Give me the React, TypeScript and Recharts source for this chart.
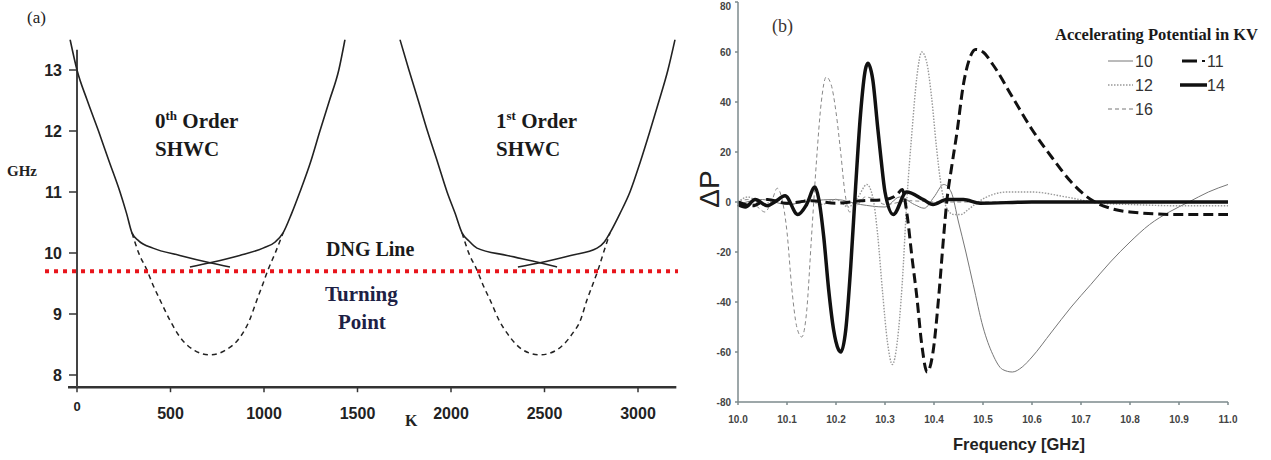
import React from 'react';
import { LineChart, Line, XAxis, YAxis, ReferenceLine } from 'recharts';

// ---------------- Panel (a): dispersion of SHWC ----------------
const kTicks = [0, 500, 1000, 1500, 2000, 2500, 3000];
const ghzTicks = [8, 9, 10, 11, 12, 13];
const dngLevel = 9.7;

const zerothSolidA = [
  { k: -37, f: 13.5 }, { k: 0, f: 13.0 }, { k: 55, f: 12.5 }, { k: 115, f: 12.0 },
  { k: 172, f: 11.5 }, { k: 230, f: 11.0 }, { k: 265, f: 10.65 }, { k: 294, f: 10.33 },
  { k: 330, f: 10.2 }, { k: 406, f: 10.08 }, { k: 550, f: 9.96 }, { k: 711, f: 9.84 }, { k: 818, f: 9.77 },
];
const zerothSolidB = [
  { k: 604, f: 9.77 }, { k: 711, f: 9.84 }, { k: 870, f: 9.96 }, { k: 995, f: 10.08 },
  { k: 1060, f: 10.18 }, { k: 1102, f: 10.33 }, { k: 1148, f: 10.65 }, { k: 1192, f: 11.0 },
  { k: 1250, f: 11.5 }, { k: 1299, f: 12.0 }, { k: 1350, f: 12.5 }, { k: 1400, f: 13.0 }, { k: 1433, f: 13.5 },
];
const zerothDashed = [
  { k: 294, f: 10.33 }, { k: 330, f: 10.0 }, { k: 374, f: 9.72 }, { k: 410, f: 9.45 },
  { k: 444, f: 9.23 }, { k: 500, f: 8.88 }, { k: 551, f: 8.62 }, { k: 630, f: 8.4 },
  { k: 711, f: 8.33 }, { k: 790, f: 8.4 }, { k: 872, f: 8.62 }, { k: 920, f: 8.88 },
  { k: 962, f: 9.23 }, { k: 995, f: 9.5 }, { k: 1021, f: 9.72 }, { k: 1060, f: 10.0 }, { k: 1102, f: 10.33 },
];
const firstSolidA = [
  { k: 1727, f: 13.5 }, { k: 1775, f: 13.0 }, { k: 1825, f: 12.5 }, { k: 1874, f: 12.0 },
  { k: 1927, f: 11.5 }, { k: 1979, f: 11.0 }, { k: 2022, f: 10.65 }, { k: 2059, f: 10.33 },
  { k: 2095, f: 10.2 }, { k: 2139, f: 10.08 }, { k: 2300, f: 9.96 }, { k: 2476, f: 9.84 }, { k: 2567, f: 9.77 },
];
const firstSolidB = [
  { k: 2358, f: 9.77 }, { k: 2476, f: 9.84 }, { k: 2640, f: 9.96 }, { k: 2781, f: 10.08 },
  { k: 2820, f: 10.18 }, { k: 2850, f: 10.33 }, { k: 2904, f: 10.65 }, { k: 2957, f: 11.0 },
  { k: 3013, f: 11.5 }, { k: 3064, f: 12.0 }, { k: 3113, f: 12.5 }, { k: 3160, f: 13.0 }, { k: 3198, f: 13.5 },
];
const firstDashed = [
  { k: 2059, f: 10.33 }, { k: 2095, f: 10.0 }, { k: 2139, f: 9.72 }, { k: 2175, f: 9.45 },
  { k: 2209, f: 9.23 }, { k: 2260, f: 8.88 }, { k: 2299, f: 8.69 }, { k: 2390, f: 8.4 },
  { k: 2476, f: 8.33 }, { k: 2560, f: 8.4 }, { k: 2652, f: 8.69 }, { k: 2690, f: 8.88 },
  { k: 2727, f: 9.23 }, { k: 2760, f: 9.5 }, { k: 2786, f: 9.72 }, { k: 2815, f: 10.0 }, { k: 2850, f: 10.33 },
];

// ---------------- Panel (b): ΔP vs frequency ----------------
const freqTicks = [10.0, 10.1, 10.2, 10.3, 10.4, 10.5, 10.6, 10.7, 10.8, 10.9, 11.0];
const dpTicks = [-80, -60, -40, -20, 0, 20, 40, 60, 80];

const kv10 = [
  [10.0, -1], [10.05, 1], [10.1, -1], [10.15, 0.5], [10.2, 1], [10.25, -1], [10.3, -2], [10.33, 2],
  [10.36, -1], [10.38, -2.5], [10.4, 2], [10.42, 7], [10.435, 4], [10.45, -8], [10.465, -20], [10.48, -33],
  [10.5, -50], [10.52, -61], [10.54, -67], [10.56, -68], [10.58, -66], [10.6, -62], [10.64, -52],
  [10.68, -42], [10.72, -33], [10.76, -24], [10.8, -16], [10.84, -9], [10.88, -4], [10.92, 0], [10.96, 4], [11.0, 7],
].map(([f, v]) => ({ f, v }));
const kv11 = [
  [10.0, 0], [10.03, -1.5], [10.06, 1], [10.1, -0.5], [10.15, 0.5], [10.2, -0.5], [10.25, 0.5], [10.3, 1],
  [10.325, 3], [10.335, 5], [10.345, -5], [10.355, -22], [10.365, -38], [10.375, -57], [10.386, -68],
  [10.398, -60], [10.41, -37], [10.42, -13], [10.426, 0], [10.436, 14], [10.447, 28], [10.46, 47],
  [10.472, 57], [10.485, 61], [10.5, 60], [10.52, 55], [10.56, 42], [10.6, 29], [10.64, 18], [10.68, 8],
  [10.72, 1], [10.76, -2.5], [10.8, -4], [10.9, -5], [11.0, -5],
].map(([f, v]) => ({ f, v }));
const kv12 = [
  [10.0, 0], [10.02, 2], [10.05, -1], [10.08, 1], [10.11, -1], [10.14, 1], [10.17, -1], [10.2, 1],
  [10.225, -2], [10.245, 2], [10.263, 7], [10.275, 2], [10.285, -13], [10.295, -36], [10.305, -56],
  [10.315, -65], [10.325, -56], [10.335, -33], [10.345, 2], [10.355, 28], [10.365, 50], [10.375, 60],
  [10.385, 56], [10.395, 42], [10.405, 22], [10.415, 6], [10.425, -2], [10.44, -5], [10.455, -5],
  [10.47, -3], [10.49, 0], [10.52, 3], [10.55, 4], [10.6, 4], [10.67, 2], [10.74, -0.5], [10.8, -1],
  [10.9, -1.5], [11.0, -1.5],
].map(([f, v]) => ({ f, v }));
const kv14 = [
  [10.0, -1], [10.015, -2], [10.035, 1], [10.06, -1.5], [10.075, 0], [10.096, 2.5], [10.122, -5],
  [10.14, -1], [10.157, 6], [10.165, 1], [10.175, -14], [10.185, -35], [10.195, -51], [10.205, -59],
  [10.21, -60], [10.22, -51], [10.23, -26], [10.24, 6], [10.25, 35], [10.26, 53], [10.265, 55.5],
  [10.275, 49], [10.285, 30], [10.292, 17], [10.3, 4], [10.317, -5], [10.344, 4], [10.378, 1],
  [10.398, -1], [10.426, 1], [10.46, 1], [10.494, -0.5], [10.6, 0], [10.8, 0], [11.0, 0],
].map(([f, v]) => ({ f, v }));
const kv16 = [
  [10.0, 0], [10.02, 1], [10.04, -2], [10.055, -4], [10.07, 1], [10.08, 5.5], [10.09, 1], [10.1, -12],
  [10.11, -35], [10.12, -50], [10.13, -54], [10.14, -44], [10.15, -14], [10.16, 16], [10.17, 40],
  [10.18, 50], [10.19, 47], [10.2, 36], [10.21, 19], [10.218, 4], [10.228, -4], [10.245, -1], [10.26, 2],
  [10.28, 1], [10.3, -1], [10.35, 0.5], [10.4, 0], [10.5, 0], [11.0, 0],
].map(([f, v]) => ({ f, v }));

// ---------------- layout constants ----------------
const K_MIN = -180;
const K_MAX = 3220;
const A_LEFT = 43.34;
const A_RIGHT = 679.14;
const A_TOP = 39.5;
const A_BOTTOM = 387.2;
const AXIS_A_X = A_LEFT + ((0 - K_MIN) * (A_RIGHT - A_LEFT)) / (K_MAX - K_MIN);

const sans = '"Liberation Sans", Arial, sans-serif';
const serif = '"Liberation Serif", "Times New Roman", serif';

const YTickA = (props: any) => {
  const { y, payload } = props;
  return (
    <g>
      <line x1={AXIS_A_X - 8} x2={AXIS_A_X} y1={y} y2={y} stroke="#333" strokeWidth={1.5} />
      <text x={AXIS_A_X - 15} y={y} dy="0.36em" textAnchor="end" fontFamily={sans} fontWeight="bold" fontSize={16} fill="#222">
        {payload.value}
      </text>
    </g>
  );
};

const XTickA = (props: any) => {
  const { x, payload } = props;
  const isZero = payload.value === 0;
  return (
    <g>
      <line x1={x} x2={x} y1={A_BOTTOM} y2={A_BOTTOM + 5} stroke="#333" strokeWidth={1.5} />
      <text x={x} y={isZero ? A_BOTTOM + 19 : A_BOTTOM + 26} dy="0.36em" textAnchor="middle" fontFamily={sans}
        fontWeight="bold" fontSize={isZero ? 13 : 16} fill="#222">
        {payload.value}
      </text>
    </g>
  );
};

const YTickB = (props: any) => {
  const { x, y, payload } = props;
  const ty = Math.max(y, 6);
  return (
    <text x={x} y={ty} dy="0.36em" textAnchor="end" fontFamily={sans} fontWeight="bold" fontSize={10} fill="#444">
      {payload.value}
    </text>
  );
};

const curveA = { stroke: '#222', strokeWidth: 1.6, dot: false, isAnimationActive: false, type: 'monotone' as const };
const dashA = { ...curveA, strokeWidth: 1.5, strokeDasharray: '5 4' };

export default function App() {
  return (
    <div style={{ position: 'absolute', left: 0, top: 0, width: 1271, height: 460, background: '#fff', overflow: 'hidden' }}>
      {/* Panel (a) */}
      <div style={{ position: 'absolute', left: 0, top: 0 }}>
        <LineChart width={700} height={460}
          margin={{ top: A_TOP, right: 700 - A_RIGHT, bottom: 460 - A_BOTTOM - 40, left: A_LEFT - 1 }}>
          <XAxis dataKey="k" type="number" domain={[K_MIN, K_MAX]} allowDataOverflow ticks={kTicks} interval={0}
            axisLine={false} tickLine={false} tick={XTickA} height={40} />
          <YAxis type="number" domain={[7.8, 13.5]} allowDataOverflow ticks={ghzTicks} interval={0}
            axisLine={false} tickLine={false} tick={YTickA} width={1} />
          <ReferenceLine segment={[{ x: -48, y: 7.8 }, { x: 3205, y: 7.8 }]} stroke="#333" strokeWidth={2.5} ifOverflow="visible" />
          <ReferenceLine segment={[{ x: 0, y: 7.8 }, { x: 0, y: 13.33 }]} stroke="#444" strokeWidth={2} ifOverflow="visible" />
          <Line data={zerothSolidA} dataKey="f" {...curveA} />
          <Line data={zerothSolidB} dataKey="f" {...curveA} />
          <Line data={zerothDashed} dataKey="f" {...dashA} />
          <Line data={firstSolidA} dataKey="f" {...curveA} />
          <Line data={firstSolidB} dataKey="f" {...curveA} />
          <Line data={firstDashed} dataKey="f" {...dashA} />
          <ReferenceLine segment={[{ x: -171, y: dngLevel }, { x: 3214, y: dngLevel }]} stroke="#e8141b"
            strokeWidth={4} strokeDasharray="4 5" ifOverflow="visible" />
        </LineChart>
      </div>

      {/* Panel (b) */}
      <div style={{ position: 'absolute', left: 700, top: 0 }}>
        <LineChart width={571} height={460} margin={{ top: 2, right: 43, bottom: 28, left: 8 }}>
          <XAxis dataKey="f" type="number" domain={[10, 11]} ticks={freqTicks} interval={0}
            tickFormatter={(v: number) => v.toFixed(1)} stroke="#7d8a8c" strokeWidth={1.5}
            tickSize={3} tickMargin={11} height={30}
            tick={{ fontFamily: sans, fontWeight: 'bold', fontSize: 10, fill: '#444' }} />
          <YAxis type="number" domain={[-80, 80]} ticks={dpTicks} interval={0} stroke="#7d8a8c" strokeWidth={1.5}
            tickSize={3} tickMargin={4} width={30} tick={YTickB} />
          <Line data={kv10} dataKey="v" type="monotone" stroke="#777" strokeWidth={1} dot={false} isAnimationActive={false} />
          <Line data={kv16} dataKey="v" type="monotone" stroke="#888" strokeWidth={1} strokeDasharray="4 3" dot={false} isAnimationActive={false} />
          <Line data={kv12} dataKey="v" type="monotone" stroke="#999" strokeWidth={1.4} strokeDasharray="1.5 1.5" dot={false} isAnimationActive={false} />
          <Line data={kv11} dataKey="v" type="monotone" stroke="#111" strokeWidth={3} strokeDasharray="10 5" dot={false} isAnimationActive={false} />
          <Line data={kv14} dataKey="v" type="monotone" stroke="#111" strokeWidth={3.5} dot={false} isAnimationActive={false} />
        </LineChart>
      </div>

      {/* Text annotations */}
      <svg width={1271} height={460} style={{ position: 'absolute', left: 0, top: 0, pointerEvents: 'none' }}>
        <text x={27} y={23} fontFamily={serif} fontSize={17} fill="#222">(a)</text>
        <text x={7} y={176} fontFamily={serif} fontWeight="bold" fontSize={15} fill="#222">GHz</text>
        <text x={405} y={426} fontFamily={serif} fontWeight="bold" fontSize={16} fill="#222">K</text>
        <text x={155} y={128} fontFamily={serif} fontWeight="bold" fontSize={21} fill="#1a1a1a">
          0<tspan fontSize={13} dy={-8}>th</tspan><tspan dy={8}> Order</tspan>
        </text>
        <text x={155} y={156} fontFamily={serif} fontWeight="bold" fontSize={21} fill="#1a1a1a">SHWC</text>
        <text x={496} y={128} fontFamily={serif} fontWeight="bold" fontSize={21} fill="#1a1a1a">
          1<tspan fontSize={13} dy={-8}>st</tspan><tspan dy={8}> Order</tspan>
        </text>
        <text x={496} y={156} fontFamily={serif} fontWeight="bold" fontSize={21} fill="#1a1a1a">SHWC</text>
        <text x={326} y={256} fontFamily={serif} fontWeight="bold" fontSize={20} fill="#1a1a1a">DNG Line</text>
        <text x={325} y={301} fontFamily={serif} fontWeight="bold" fontSize={21} fill="#1d2145">Turning</text>
        <text x={338} y={329} fontFamily={serif} fontWeight="bold" fontSize={21} fill="#1d2145">Point</text>

        <text x={772} y={32} fontFamily={serif} fontSize={18} fill="#3b3530">(b)</text>
        <text transform="translate(719,189) rotate(-90)" textAnchor="middle" fontFamily={sans} fontSize={28} fill="#222">ΔP</text>
        <text x={1019} y={450} textAnchor="middle" fontFamily={sans} fontWeight="bold" fontSize={16.5} fill="#222">Frequency [GHz]</text>

        <text x={1055} y={40} fontFamily={serif} fontWeight="bold" fontSize={16} fill="#1a1a1a" textLength={203} lengthAdjust="spacingAndGlyphs">Accelerating Potential in KV</text>
        <line x1={1108} x2={1133} y1={61} y2={61} stroke="#777" strokeWidth={1} />
        <text x={1135} y={67} fontFamily={sans} fontSize={16} fill="#333">10</text>
        <line x1={1182} x2={1197} y1={61} y2={61} stroke="#111" strokeWidth={3} />
        <line x1={1202} x2={1205} y1={61} y2={61} stroke="#111" strokeWidth={2} />
        <text x={1207} y={67} fontFamily={sans} fontSize={16} fill="#333">11</text>
        <line x1={1108} x2={1133} y1={85} y2={85} stroke="#999" strokeWidth={1.4} strokeDasharray="1.5 1.5" />
        <text x={1135} y={91} fontFamily={sans} fontSize={16} fill="#333">12</text>
        <line x1={1180} x2={1207} y1={85} y2={85} stroke="#111" strokeWidth={3.5} />
        <text x={1207} y={91} fontFamily={sans} fontSize={16} fill="#333">14</text>
        <line x1={1108} x2={1133} y1={109} y2={109} stroke="#777" strokeWidth={1} strokeDasharray="4 3" />
        <text x={1135} y={115} fontFamily={sans} fontSize={16} fill="#333">16</text>
      </svg>
    </div>
  );
}
